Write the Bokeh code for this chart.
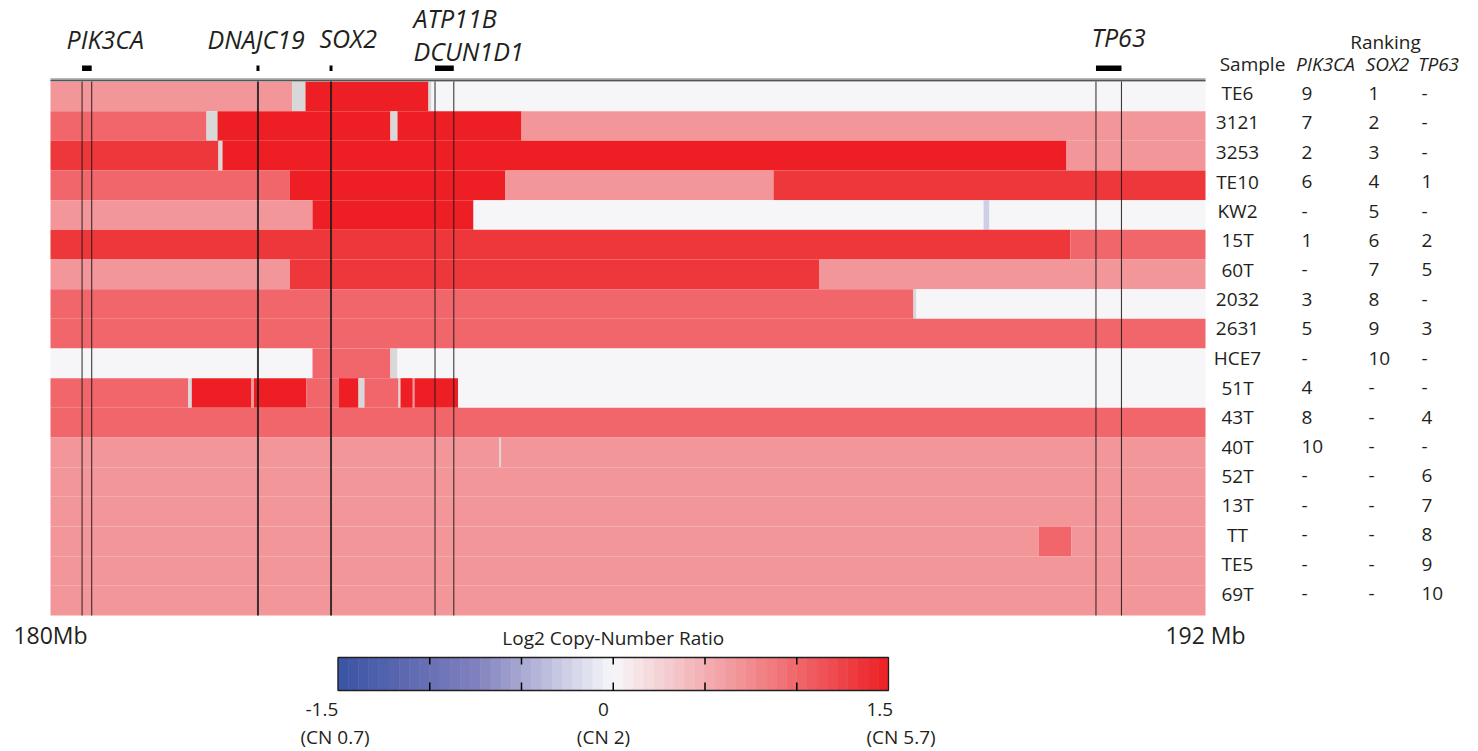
import numpy as np
from bokeh.plotting import figure
from bokeh.models import Range1d, ColumnDataSource, LinearColorMapper
from bokeh.core.properties import value
from bokeh.embed import file_html
from bokeh.resources import INLINE

# ---------------- data ----------------
samples = ["TE6", "3121", "3253", "TE10", "KW2", "15T", "60T", "2032", "2631",
           "HCE7", "51T", "43T", "40T", "52T", "13T", "TT", "TE5", "69T"]
rank_pik3ca = ["9", "7", "2", "6", "-", "1", "-", "3", "5", "-", "4", "8", "10", "-", "-", "-", "-", "-"]
rank_sox2 = ["1", "2", "3", "4", "5", "6", "7", "8", "9", "10", "-", "-", "-", "-", "-", "-", "-", "-"]
rank_tp63 = ["-", "-", "-", "1", "-", "2", "5", "-", "3", "-", "-", "4", "-", "6", "7", "8", "9", "10"]

NA = float("nan")
# copy-number segments: sample row index, start (Mb), end (Mb), log2 ratio
seg_row = [0, 0, 0, 0, 0,
           1, 1, 1, 1, 1, 1,
           2, 2, 2, 2,
           3, 3, 3, 3,
           4, 4, 4, 4, 4,
           5, 5,
           6, 6, 6,
           7, 7, 7,
           8,
           9, 9, 9, 9,
           10, 10, 10, 10, 10, 10, 10, 10, 10, 10, 10, 10, 10, 10,
           11,
           12, 12, 12,
           13, 14,
           15, 15, 15,
           16, 17]
seg_start = [180.000, 182.510, 182.649, 183.927, 183.958,
             180.000, 181.621, 181.735, 183.532, 183.605, 184.894,
             180.000, 181.745, 181.787, 190.556,
             180.000, 182.488, 184.727, 187.512,
             180.000, 182.722, 184.395, 189.694, 189.756,
             180.000, 190.597,
             180.000, 182.488, 187.990,
             180.000, 188.966, 188.997,
             180.000,
             180.000, 182.722, 183.532, 183.605,
             180.000, 181.429, 181.468, 182.088, 182.114, 182.657, 182.997, 183.200, 183.262, 183.616, 183.636, 183.764, 183.782, 184.236,
             180.000,
             180.000, 184.665, 184.681,
             180.000, 180.000,
             180.000, 190.269, 190.608,
             180.000, 180.000]
seg_end = [182.510, 182.649, 183.927, 183.958, 192.000,
           181.621, 181.735, 183.532, 183.605, 184.894, 192.000,
           181.745, 181.787, 190.556, 192.000,
           182.488, 184.727, 187.512, 192.000,
           182.722, 184.395, 189.694, 189.756, 192.000,
           190.597, 192.000,
           182.488, 187.990, 192.000,
           188.966, 188.997, 192.000,
           192.000,
           182.722, 183.532, 183.605, 192.000,
           181.429, 181.468, 182.088, 182.114, 182.657, 182.997, 183.200, 183.262, 183.616, 183.636, 183.764, 183.782, 184.236, 192.000,
           192.000,
           184.665, 184.681, 192.000,
           192.000, 192.000,
           190.269, 190.608, 192.000,
           192.000, 192.000]
seg_log2 = [0.67, NA, 1.5, NA, 0.0,
            1.0, NA, 1.5, NA, 1.5, 0.67,
            1.33, NA, 1.5, 0.67,
            1.0, 1.5, 0.67, 1.33,
            0.67, 1.5, 0.0, -0.25, 0.0,
            1.33, 1.0,
            0.67, 1.33, 0.67,
            1.0, NA, 0.0,
            1.0,
            0.0, 1.0, NA, 0.0,
            1.0, NA, 1.5, 0.67, 1.5, 1.0, 1.5, NA, 1.0, NA, 1.5, 0.67, 1.5, 0.0,
            1.0,
            0.67, NA, 0.67,
            0.67, 0.67,
            0.67, 1.0, 0.67,
            0.67, 0.67]

# gene loci (Mb)
gene_locus = ["PIK3CA", "DNAJC19", "SOX2", "ATP11B/DCUN1D1", "TP63"]
gene_start = [180.328, 182.140, 182.899, 183.995, 190.862]
gene_end = [180.428, 182.171, 182.930, 184.190, 191.127]
gene_label_text = ["PIK3CA", "DNAJC19", "SOX2", "ATP11B", "DCUN1D1", "TP63"]

region_start, region_end = 180, 192
axis_labels = ["180Mb", "192 Mb"]

cbar_low, cbar_high = -1.5, 1.5
cbar_ticks = [-1.0, -0.5, 0.0, 0.5, 1.0]
cbar_values = [-1.5, 0.0, 1.5]
cbar_text = ["-1.5", "0", "1.5"]
cbar_cn = ["(CN 0.7)", "(CN 2)", "(CN 5.7)"]

# ---------------- layout (pixels) ----------------
W, H = 1478, 751
HM_L, HM_R, HM_T, HM_B = 50, 1205, 81, 615
PX_MB = (HM_R - HM_L) / (region_end - region_start)
ROW_PX = (HM_B - HM_T) / len(samples)


def mx(px):
    return region_start + (px - HM_L) / PX_MB


def ry(py):
    return (py - HM_T) / ROW_PX


# ---------------- colours ----------------
BLUE = np.array([58, 83, 164.0])
MIDB = np.array([128, 128, 190.0])
WHITE = np.array([246, 247, 250.0])
RED = np.array([237, 31, 36.0])


def cn_color(v):
    if v <= -0.75:
        t = (v + 1.5) / 0.75
        c = BLUE + (MIDB - BLUE) * t
    elif v <= 0:
        t = (v + 0.75) / 0.75
        c = MIDB + (WHITE - MIDB) * t
    else:
        t = v / 1.5
        c = WHITE + (RED - WHITE) * t
    c = np.clip(np.round(c), 0, 255).astype(int)
    return "#%02x%02x%02x" % tuple(c)


palette = [cn_color(v) for v in np.linspace(cbar_low, cbar_high, 256)]
mapper = LinearColorMapper(palette=palette, low=cbar_low, high=cbar_high, nan_color="#D8D8D8")

# ---------------- figure ----------------
p = figure(width=W, height=H,
           x_range=Range1d(mx(0), mx(W)),
           y_range=Range1d(start=ry(H), end=ry(0)),
           toolbar_location=None, output_backend="svg",
           min_border=0, x_axis_location=None, y_axis_location=None)
p.grid.visible = False
p.outline_line_color = None
p.background_fill_color = "white"

TXT = "#231f20"
FONT = value("Open Sans")

# heatmap segments
seg_src = ColumnDataSource(dict(
    left=seg_start, right=seg_end,
    top=[r for r in seg_row], bottom=[r + 1 for r in seg_row],
    log2=np.array(seg_log2, dtype=float)))
p.quad(left="left", right="right", top="top", bottom="bottom", source=seg_src,
       fill_color={"field": "log2", "transform": mapper}, line_color=None)

# top border line
p.quad(left=[region_start], right=[region_end], top=[ry(77.5)], bottom=[ry(81)],
       fill_color="#b8b8b8", line_color=None)
p.segment(x0=[region_start], x1=[region_end], y0=[ry(80)], y1=[ry(80)],
          line_color="#555555", line_width=1.5)

# gene lines and bars
line_x, line_w = [], []
for s, e in zip(gene_start, gene_end):
    if e - s < 0.05:
        line_x.append((s + e) / 2)
        line_w.append(2.0)
    else:
        line_x += [s, e]
        line_w += [1.1, 1.1]
p.segment(x0=line_x, x1=line_x, y0=[0] * len(line_x), y1=[len(samples)] * len(line_x),
          line_color="#1a1a1a", line_width=line_w, line_alpha=0.85)
p.quad(left=gene_start, right=gene_end, top=[ry(65)] * len(gene_start), bottom=[ry(70.5)] * len(gene_start),
       fill_color="black", line_color=None)

# gene labels (cap-centre anchored)
glx = [mx(66), mx(207), mx(319), mx(413), mx(413), mx(1091)]
gly = [ry(38), ry(38.5), ry(37), ry(17), ry(50.5), ry(36)]
p.text(x=glx, y=gly, text=gene_label_text, text_font=FONT,
       text_font_size="25px", text_font_style="italic", text_color=TXT,
       text_align="left", text_baseline="middle")

# axis end labels
p.text(x=[region_start, region_end], y=[ry(634)] * 2, text=axis_labels,
       text_font=FONT, text_font_size="23px", text_color=TXT,
       text_align="center", text_baseline="middle")

# ranking table
n = len(samples)
row_y = [i + 0.5 - (3 + 4 * i / (n - 1)) / ROW_PX for i in range(n)]
p.text(x=[mx(1237)] * n, y=row_y, text=samples, text_font=FONT,
       text_font_size="19px", text_color=TXT, text_align="center", text_baseline="middle")
p.text(x=[mx(1301)] * n, y=row_y, text=rank_pik3ca, text_font=FONT,
       text_font_size="19px", text_color=TXT, text_align="left", text_baseline="middle")
p.text(x=[mx(1368)] * n, y=row_y, text=rank_sox2, text_font=FONT,
       text_font_size="19px", text_color=TXT, text_align="left", text_baseline="middle")
p.text(x=[mx(1421)] * n, y=row_y, text=rank_tp63, text_font=FONT,
       text_font_size="19px", text_color=TXT, text_align="left", text_baseline="middle")
p.text(x=[mx(1252)], y=[ry(63.5)], text=["Sample"], text_font=FONT,
       text_font_size="19px", text_color=TXT, text_align="center", text_baseline="middle")
p.text(x=[mx(1385)], y=[ry(41)], text=["Ranking"], text_font=FONT,
       text_font_size="19px", text_color=TXT, text_align="center", text_baseline="middle")
p.text(x=[mx(1325), mx(1387), mx(1438)], y=[ry(63.5)] * 3, text=["PIK3CA", "SOX2", "TP63"],
       text_font=FONT, text_font_size="19px", text_font_style="italic",
       text_color=TXT, text_align="center", text_baseline="middle")

# colour bar (manual)
CB_L, CB_R, CB_T, CB_B = mx(337.5), mx(888), ry(657), ry(690)


def cbx(v):
    return CB_L + (v - cbar_low) / (cbar_high - cbar_low) * (CB_R - CB_L)


nb = 54
edges = np.linspace(cbar_low, cbar_high, nb + 1)
band_cols = [cn_color((a + b) / 2) for a, b in zip(edges[:-1], edges[1:])]
p.quad(left=[cbx(v) for v in edges[:-1]], right=[cbx(v) for v in edges[1:]],
       top=[CB_T] * nb, bottom=[CB_B] * nb, fill_color=band_cols, line_color=band_cols, line_width=0.6)
p.quad(left=[CB_L], right=[CB_R], top=[CB_T], bottom=[CB_B], fill_color=None,
       line_color="#231f20", line_width=1.3)
tx = [cbx(v) for v in cbar_ticks]
p.segment(x0=tx, x1=tx, y0=[CB_T] * 5, y1=[ry(664)] * 5, line_color="black", line_width=1.5)
p.segment(x0=tx, x1=tx, y0=[CB_B] * 5, y1=[ry(682)] * 5, line_color="black", line_width=1.5)
p.text(x=[cbx(0)], y=[ry(637)], text=["Log2 Copy-Number Ratio"], text_font=FONT,
       text_font_size="19px", text_color=TXT, text_align="center", text_baseline="middle")
lab_x = [mx(305), mx(603), mx(866)]
lab_align = ["left", "center", "left"]
cn_x = [mx(300), mx(603), mx(866)]
for i in range(3):
    p.text(x=[lab_x[i]], y=[ry(709)], text=[cbar_text[i]], text_font=FONT,
           text_font_size="19px", text_color=TXT, text_align=lab_align[i], text_baseline="middle")
    p.text(x=[cn_x[i]], y=[ry(736)], text=[cbar_cn[i]], text_font=FONT,
           text_font_size="19px", text_color=TXT, text_align=lab_align[i], text_baseline="middle")

open("out.html", "w").write(file_html(p, INLINE))
